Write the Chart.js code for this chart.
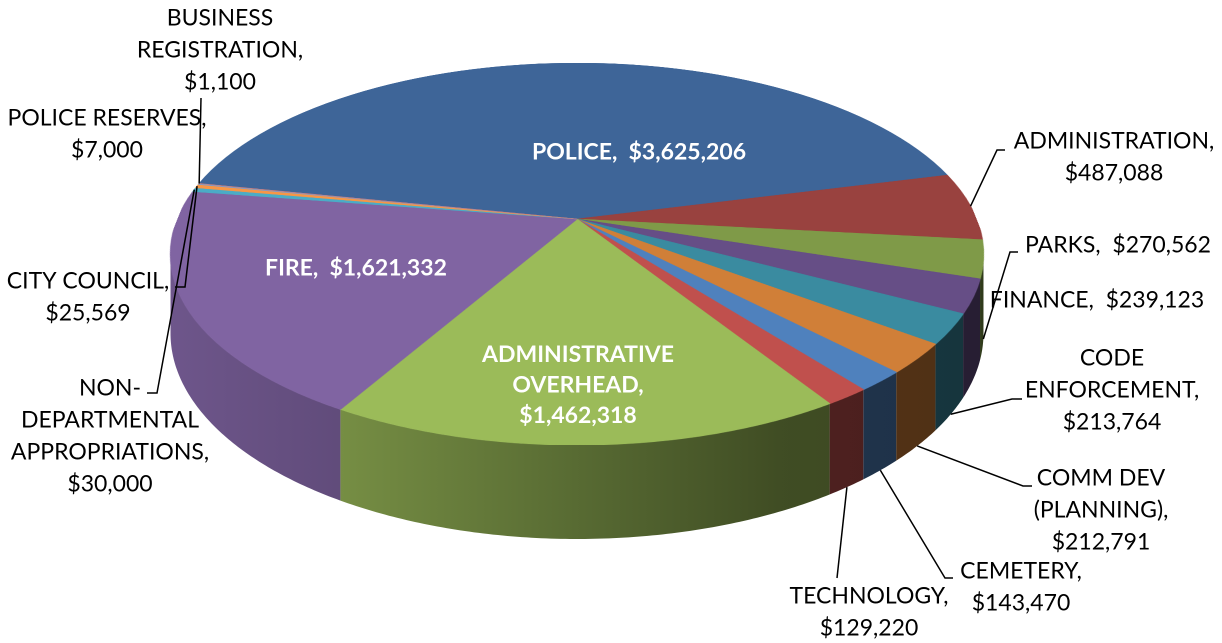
<!DOCTYPE html>
<html>
<head>
<meta charset="utf-8">
<title>General Fund Expenditures by Department</title>
<script src="https://cdn.jsdelivr.net/npm/chart.js@4/dist/chart.umd.min.js"></script>
<style>
  html, body { margin: 0; padding: 0; background: #fff; }
  #wrap { position: relative; width: 1222px; height: 643px; }
</style>
</head>
<body>
<div id="wrap"><canvas id="chart"></canvas></div>
<script>
const categories = [
  'POLICE', 'ADMINISTRATION', 'PARKS', 'FINANCE', 'CODE ENFORCEMENT',
  'COMM DEV (PLANNING)', 'CEMETERY', 'TECHNOLOGY', 'ADMINISTRATIVE OVERHEAD',
  'FIRE', 'NON-DEPARTMENTAL APPROPRIATIONS', 'CITY COUNCIL', 'POLICE RESERVES',
  'BUSINESS REGISTRATION'
];
const budget = [
  3625206, 487088, 270562, 239123, 213764,
  212791, 143470, 129220, 1462318,
  1621332, 30000, 25569, 7000,
  1100
];
const sliceColors = [
  '#3E6598', '#99423F', '#7F9A48', '#664E86', '#3A8BA0',
  '#D07F38', '#4F81BD', '#C0504D', '#9BBB59',
  '#8064A2', '#4BACC6', '#F79646', '#7E9DCB',
  '#CD7E7C'
];

// where each data label sits: centre of the text block, words per line,
// and the bend points of its leader line (drawn from the slice outwards)
const labelLayout = [
  { x: 639, y: 152, words: [2], inside: true },
  { x: 1114, y: 157, words: [1, 1], leader: [[997, 150], [1005, 150]] },
  { x: 1118, y: 245, words: [2], leader: [[1010, 252], [1018, 252]] },
  { x: 1097, y: 300, words: [2] },
  { x: 1112, y: 390, words: [1, 1, 1], leader: [[1012, 399], [1022, 399]] },
  { x: 1101, y: 510, words: [2, 1, 1], leader: [[1023, 486], [1032, 486]] },
  { x: 1021, y: 587, words: [1, 1], leader: [[945, 578], [953, 578]] },
  { x: 869, y: 612, words: [1, 1], leader: [[837, 578]] },
  { x: 578, y: 385, words: [1, 1, 1], inside: true },
  { x: 356, y: 268, words: [2], inside: true },
  { x: 110, y: 436, words: [1, 1, 1, 1], leader: [[157, 393], [147, 393]] },
  { x: 88, y: 297, words: [2, 1], leader: [[185, 287], [175, 287]] },
  { x: 107, y: 134, words: [2, 1] },
  { x: 220, y: 50, words: [1, 1, 1], leader: [[201, 98]] }
];

// perspective of the tilted disc: screen y = (q*v + cy) / (1 + c*v),
// screen x = cx + p*u / (1 + c*v), with (u, v) on the unit circle
const view = { cx: 577, cy: 219, q: 144.45, c: -0.1832, p: 399.6, depth: 76.8 };

// wall shading from left to right
const wallStops = [[0, 0.86], [0.21, 0.76], [0.5, 0.57], [0.75, 0.41], [1, 0.38]];

function project(theta, lower) {
  const u = Math.cos(theta), v = Math.sin(theta);
  const w = 1 + view.c * v;
  return {
    x: view.cx + view.p * u / w,
    y: (view.q * v + view.cy) / w + (lower ? view.depth / w : 0)
  };
}

function rowToV(y) {
  return (y - view.cy) / (view.q - view.c * y);
}

function shade(hex, f) {
  const n = parseInt(hex.slice(1), 16);
  const r = Math.round(((n >> 16) & 255) * f);
  const g = Math.round(((n >> 8) & 255) * f);
  const b = Math.round((n & 255) * f);
  return `rgb(${r},${g},${b})`;
}

function money(v) {
  return '$' + v.toLocaleString('en-US');
}

function labelLines(i, counts) {
  const tokens = [];
  categories[i].split(' ').forEach(w => tokens.push(...w.split(/(?<=-)/)));
  tokens[tokens.length - 1] += ',';
  tokens.push(money(budget[i]));
  const lines = [];
  let k = 0;
  counts.forEach(n => {
    let s = '';
    for (let j = 0; j < n; j++, k++) {
      if (j > 0) s += s.endsWith(',') ? '  ' : (s.endsWith('-') ? '' : ' ');
      s += tokens[k];
    }
    lines.push(s);
  });
  return lines;
}

const tiltedPie = {
  id: 'tiltedPie',
  afterDatasetsDraw(chart) {
    const ctx = chart.ctx, canvas = chart.canvas;
    const dpr = chart.currentDevicePixelRatio;
    const arcs = chart.getDatasetMeta(0).data;
    const ox = arcs[0].x, oy = arcs[0].y, R = arcs[0].outerRadius;

    // keep the flat pie the arc elements just drew
    const flat = document.createElement('canvas');
    flat.width = canvas.width;
    flat.height = canvas.height;
    flat.getContext('2d').drawImage(canvas, 0, 0);

    ctx.save();
    ctx.setTransform(1, 0, 0, 1, 0, 0);
    ctx.clearRect(0, 0, canvas.width, canvas.height);
    ctx.setTransform(dpr, 0, 0, dpr, 0, 0);

    // outer wall, only the part facing the viewer
    const lim = Math.asin(-view.c);
    arcs.forEach((arc, i) => {
      const a = Math.max(arc.startAngle, lim);
      const b = Math.min(arc.endAngle, Math.PI - lim);
      if (a >= b) return;
      const n = Math.max(2, Math.ceil((b - a) / 0.01));
      ctx.beginPath();
      for (let k = 0; k <= n; k++) {
        const pt = project(a + (b - a) * k / n, false);
        if (k) ctx.lineTo(pt.x, pt.y); else ctx.moveTo(pt.x, pt.y);
      }
      for (let k = n; k >= 0; k--) {
        const pt = project(a + (b - a) * k / n, true);
        ctx.lineTo(pt.x, pt.y);
      }
      ctx.closePath();
      const g = ctx.createLinearGradient(171, 0, 984, 0);
      wallStops.forEach(([s, f]) => g.addColorStop(s, shade(sliceColors[i], f)));
      ctx.fillStyle = g;
      ctx.fill();
    });

    // top face: every screen row picks up its matching row of the flat pie
    const top = project(-Math.PI / 2).y, bottom = project(Math.PI / 2).y;
    const step = 1 / dpr;
    ctx.imageSmoothingEnabled = true;
    ctx.imageSmoothingQuality = 'high';
    for (let Y = Math.floor(top * dpr) / dpr; Y < bottom; Y += step) {
      const v0 = Math.max(-1, rowToV(Y));
      const v1 = Math.min(1, rowToV(Y + step));
      if (v1 <= v0) continue;
      const vm = rowToV(Y + step / 2);
      const half = view.p / (1 + view.c * vm);
      const sy0 = (oy + v0 * R) * dpr, sy1 = (oy + v1 * R) * dpr;
      ctx.drawImage(flat, (ox - R) * dpr, sy0, 2 * R * dpr, Math.max(sy1 - sy0, 0.5),
        view.cx - half, Y, 2 * half, step);
    }
    ctx.restore();
  },
  afterDraw(chart) {
    const ctx = chart.ctx;
    const arcs = chart.getDatasetMeta(0).data;
    ctx.save();
    labelLayout.forEach((lay, i) => {
      const arc = arcs[i];
      const mid = (arc.startAngle + arc.endAngle) / 2;
      if (lay.leader) {
        const onWall = Math.sin(mid) >= -view.c;
        const a = project(mid, onWall);
        ctx.beginPath();
        ctx.moveTo(a.x, a.y);
        lay.leader.forEach(([x, y]) => ctx.lineTo(x, y));
        ctx.strokeStyle = '#000';
        ctx.lineWidth = 1.5;
        ctx.stroke();
      }
      const lines = labelLines(i, lay.words);
      ctx.font = lay.inside ? 'bold 23px Lato' : '23px Lato';
      ctx.fillStyle = lay.inside ? '#fff' : '#000';
      ctx.textAlign = 'center';
      ctx.textBaseline = 'middle';
      const lh = lay.inside ? 30.5 : 32;
      lines.forEach((t, k) => ctx.fillText(t, lay.x, lay.y + (k - (lines.length - 1) / 2) * lh));
    });
    ctx.restore();
  }
};

function draw() {
  new Chart(document.getElementById('chart'), {
    type: 'pie',
    data: {
      labels: categories,
      datasets: [{
        data: budget,
        backgroundColor: sliceColors,
        borderColor: sliceColors,
        borderWidth: 1
      }]
    },
    options: {
      responsive: true,
      maintainAspectRatio: false,
      devicePixelRatio: 2,
      animation: false,
      rotation: -78.5,
      layout: { padding: 0 },
      plugins: {
        legend: { display: false },
        title: { display: false },
        tooltip: { enabled: false }
      },
      events: []
    },
    plugins: [tiltedPie]
  });
}

if (document.fonts && document.fonts.load) {
  Promise.all([document.fonts.load('23px Lato'), document.fonts.load('bold 23px Lato')])
    .then(draw, draw);
} else {
  draw();
}
</script>
</body>
</html>
